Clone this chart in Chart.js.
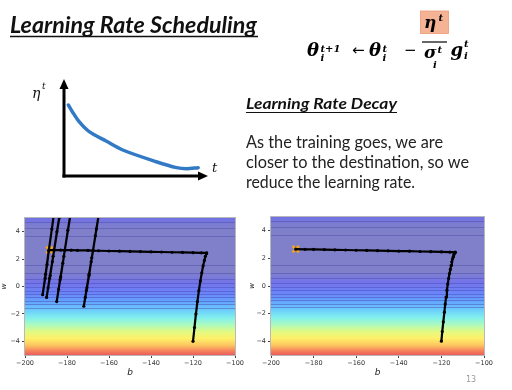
<!DOCTYPE html>
<html><head><meta charset="utf-8">
<script src="https://cdn.jsdelivr.net/npm/chart.js@4.4.1/dist/chart.umd.min.js"></script>
<style>
html,body{margin:0;padding:0;background:#fff;}
#stage{position:relative;width:512px;height:390px;overflow:hidden;background:#fff;}
canvas{position:absolute;}
#etaC{left:55px;top:72px;}
#leftC{left:0px;top:210px;}
#rightC{left:248px;top:210px;}
svg{position:absolute;left:0;top:0;}
</style></head>
<body>
<div id="stage">
<canvas id="etaC" width="160" height="112"></canvas>
<canvas id="leftC" width="250" height="180"></canvas>
<canvas id="rightC" width="264" height="180"></canvas>
<svg id="txt" width="512" height="390" xmlns="http://www.w3.org/2000/svg">
  <!-- title -->
  <text x="10" y="33" font-family="Lato" font-weight="bold" font-style="italic" font-size="23" fill="#111" textLength="247" lengthAdjust="spacingAndGlyphs">Learning Rate Scheduling</text>
  <line x1="10" y1="36.5" x2="258" y2="36.5" stroke="#111" stroke-width="1.6"/>
  <!-- formula -->
  <rect x="420.5" y="11" width="28" height="22.5" fill="#f5b396" stroke="#ee9a78" stroke-width="0.8"/>
  <g font-family="DejaVu Serif" font-weight="bold" font-style="italic" fill="#000">
    <text x="307" y="56" font-size="18">θ</text>
    <text x="320.5" y="52" font-size="10">t+1</text>
    <text x="320.5" y="61" font-size="10">i</text>
    <text x="369" y="56" font-size="18">θ</text>
    <text x="382.5" y="52" font-size="10">t</text>
    <text x="382.5" y="61" font-size="10">i</text>
    <text x="424" y="28" font-size="17">η</text>
    <text x="438.5" y="21" font-size="10">t</text>
    <text x="424" y="58" font-size="17">σ</text>
    <text x="437.5" y="53" font-size="10">t</text>
    <text x="433" y="68" font-size="10">i</text>
    <text x="450.5" y="56" font-size="18">g</text>
    <text x="464" y="47" font-size="10">t</text>
    <text x="464" y="59" font-size="10">i</text>
  </g>
  <text x="352" y="55" font-family="DejaVu Sans" font-size="15" fill="#000">←</text>
  <text x="404" y="55" font-family="DejaVu Sans" font-size="15" fill="#000">−</text>
  <line x1="422" y1="42" x2="447" y2="42" stroke="#000" stroke-width="1.2"/>
  <!-- eta chart labels -->
  <text x="32" y="98" font-family="DejaVu Serif" font-style="italic" font-size="14" fill="#111">η</text>
  <text x="42" y="89" font-family="DejaVu Serif" font-style="italic" font-size="9" fill="#111">t</text>
  <text x="212" y="172" font-family="DejaVu Serif" font-style="italic" font-size="13" fill="#111">t</text>
  <!-- right text block -->
  <text x="246" y="109" font-family="Lato" font-weight="bold" font-style="italic" font-size="16" fill="#111" textLength="151" lengthAdjust="spacingAndGlyphs">Learning Rate Decay</text>
  <line x1="246" y1="112.5" x2="397" y2="112.5" stroke="#111" stroke-width="1.2"/>
  <g font-family="Lato" font-size="17" fill="#222">
    <text x="246" y="148" textLength="197" lengthAdjust="spacingAndGlyphs">As the training goes, we are</text>
    <text x="246" y="168" textLength="223" lengthAdjust="spacingAndGlyphs">closer to the destination, so we</text>
    <text x="246" y="188" textLength="169" lengthAdjust="spacingAndGlyphs">reduce the learning rate.</text>
  </g>
  <text x="471" y="382" font-family="DejaVu Sans" font-size="8" fill="#999" text-anchor="middle">13</text>
</svg>
</div>
<script>
// ---- small learning-rate curve ----
const etaT   = [0.30, 0.58, 1.05, 1.75, 2.92, 4.08, 6.41, 7.81, 8.51, 9.32];
const etaVal = [0.732, 0.663, 0.560, 0.457, 0.361, 0.268, 0.147, 0.086, 0.075, 0.086];

// ---- contour plots ----
const bTicks = [-200, -180, -160, -140, -120, -100];
const wTicks = [-4, -2, 0, 2, 4];
const targetB = [-188.4];
const targetW = [2.67];

// Adagrad without decay (left)
const plainB = [-120, -119.3, -118.6, -117.9, -117.2, -116.5, -115.8, -115.2, -114.6, -114.1, -113.6, -113.5,
  -116, -120, -125, -130, -135, -140, -145, -150, -155, -160, -165, -167.6,
  -168.5, -169.5, -170.5, -171.3, -172, -170.8, -169.5, -168.2, -166.5, -164.5, -161.9, -166, -167.6,
  -170, -175, -178, -181.05,
  -182, -183, -184, -184.9, -183.3, -181.5, -179.6, -177.5, -175.5, -178.5, -181.05,
  -183, -186.1,
  -187, -188, -189, -189.7, -188.3, -186.6, -184.8, -182.8, -180.6, -183.7, -186.1,
  -188.6,
  -189.5, -190.4, -191.6, -190.2, -188.7, -187.2, -185.6, -183.8];
const plainW = [-4, -3.0, -2.0, -1.1, -0.3, 0.4, 1.0, 1.5, 1.9, 2.2, 2.4, 2.45,
  2.46, 2.47, 2.49, 2.50, 2.52, 2.53, 2.55, 2.56, 2.58, 2.59, 2.61, 2.62,
  1.8, 0.8, -0.1, -0.8, -1.44, -0.3, 0.9, 2.1, 3.7, 5.6, 8, 4.2, 2.62,
  2.63, 2.64, 2.65, 2.65,
  1.7, 0.7, -0.2, -1.1, 0.5, 2.2, 4.1, 6.1, 8, 5.1, 2.65,
  2.66, 2.66,
  1.8, 0.8, -0.1, -0.8, 0.6, 2.2, 4.0, 5.9, 8, 5.0, 2.66,
  2.67,
  1.6, 0.6, -0.6, 0.9, 2.6, 4.2, 6.0, 8];

// Adagrad with learning-rate decay (right)
const decayB = [-120, -119.6, -119.1, -118.6, -118.2, -117.8, -117.4, -117, -116.6, -116.2, -115.8, -115.4, -115.1, -114.8, -114.5, -114.2, -113.9, -113.6, -113.5,
  -116, -120, -125, -130, -135, -140, -145, -150, -155, -160, -165, -170, -175, -180, -184, -188.4];
const decayW = [-4, -3.3, -2.6, -1.9, -1.3, -0.8, -0.3, 0.15, 0.55, 0.9, 1.2, 1.5, 1.75, 1.95, 2.1, 2.25, 2.35, 2.42, 2.45,
  2.46, 2.47, 2.49, 2.50, 2.52, 2.53, 2.55, 2.56, 2.58, 2.59, 2.61, 2.62, 2.64, 2.65, 2.66, 2.67];

// background colour bands (w level -> colour) and contour line levels
const bandW = [5, 4.6, 4.2, 1.0, 0.3, -0.5, -1.2, -1.8, -2.3, -2.8, -3.3, -3.8, -4.3, -4.7, -5];
const bandColor = ['rgb(112,112,232)', 'rgb(122,122,212)', 'rgb(128,128,202)', 'rgb(128,128,202)', 'rgb(116,116,234)',
  'rgb(106,132,250)', 'rgb(100,170,255)', 'rgb(110,210,250)', 'rgb(130,240,236)', 'rgb(172,250,190)',
  'rgb(226,250,130)', 'rgb(255,240,105)', 'rgb(252,196,96)', 'rgb(245,130,92)', 'rgb(235,92,92)'];
const contourW = [4.7, 4.3, 3.7, 1.55, 0.95, 0.55, 0.25, -0.05, -0.3, -0.55, -0.8, -1.05, -1.3, -1.55];

const pts = (xs, ys) => xs.map((x, i) => ({x, y: ys[i]}));
const minusFmt = v => String(v).replace('-', '\u2212');

const contourBg = {
  id: 'contourBg',
  beforeDatasetsDraw(chart) {
    const {ctx, chartArea: a, scales: {y}} = chart;
    const top = y.getPixelForValue(5), bot = y.getPixelForValue(-5);
    const g = ctx.createLinearGradient(0, top, 0, bot);
    bandW.forEach((w, i) => g.addColorStop((5 - w) / 10, bandColor[i]));
    ctx.save();
    ctx.fillStyle = g;
    ctx.fillRect(a.left, a.top, a.right - a.left, a.bottom - a.top);
    ctx.strokeStyle = 'rgba(70,70,170,0.45)';
    ctx.lineWidth = 1;
    contourW.forEach(w => {
      const p = Math.round(y.getPixelForValue(w)) + 0.5;
      ctx.beginPath(); ctx.moveTo(a.left, p); ctx.lineTo(a.right, p); ctx.stroke();
    });
    ctx.restore();
  },
  afterDraw(chart) {
    const {ctx, chartArea: a} = chart;
    ctx.save();
    ctx.strokeStyle = '#b8b8b8';
    ctx.lineWidth = 1;
    ctx.strokeRect(Math.round(a.left) - 0.5, Math.round(a.top) - 0.5, Math.round(a.right - a.left) + 1, Math.round(a.bottom - a.top) + 1);
    ctx.restore();
  }
};

function contourChart(id, xs, ys, pad, yWidth) {
  return new Chart(document.getElementById(id), {
    type: 'scatter',
    data: {
      datasets: [
        {data: pts(xs, ys), showLine: true, borderColor: '#000', borderWidth: 2.2,
         pointRadius: 1.6, pointBackgroundColor: '#000', pointBorderWidth: 0, order: 0},
        {data: pts(targetB, targetW), pointStyle: 'crossRot', pointRadius: 4.5,
         borderColor: '#f5a31a', borderWidth: 2.5, order: 1}
      ]
    },
    options: {
      responsive: false, animation: false, devicePixelRatio: 1,
      layout: {padding: pad},
      plugins: {legend: {display: false}, tooltip: {enabled: false}},
      scales: {
        x: {
          type: 'linear', min: -200, max: -100,
          afterBuildTicks: s => { s.ticks = bTicks.map(v => ({value: v})); },
          afterFit: s => { s.height = 35; s.paddingLeft = 0; s.paddingRight = 0; },
          grid: {display: true, drawOnChartArea: false, drawTicks: true, tickLength: 3, color: '#444'},
          border: {display: false},
          ticks: {callback: minusFmt, font: {family: 'DejaVu Sans', size: 6.5}, color: '#333', padding: 1, maxRotation: 0},
          title: {display: true, text: 'b', font: {family: 'DejaVu Sans', size: 9, style: 'italic'}, color: '#222', padding: {top: 0, bottom: 12}}
        },
        y: {
          type: 'linear', min: -5, max: 5,
          afterBuildTicks: s => { s.ticks = wTicks.map(v => ({value: v})); },
          afterFit: s => { s.width = yWidth; s.paddingTop = 0; s.paddingBottom = 0; },
          grid: {display: true, drawOnChartArea: false, drawTicks: true, tickLength: 3, color: '#444'},
          border: {display: false},
          ticks: {callback: minusFmt, font: {family: 'DejaVu Sans', size: 6.5}, color: '#333', padding: 2},
          title: {display: true, text: 'w', font: {family: 'DejaVu Sans', size: 7, style: 'italic', lineHeight: 1}, color: '#222', padding: {top: 1, bottom: 0}}
        }
      }
    },
    plugins: [contourBg]
  });
}

contourChart('leftC', plainB, plainW, {left: 0, right: 15, top: 8, bottom: 0}, 25);
contourChart('rightC', decayB, decayW, {left: 0, right: 28, top: 7, bottom: 0}, 23);

// ---- eta chart ----
const arrowAxes = {
  id: 'arrowAxes',
  beforeDatasetsDraw(chart) {
    const {ctx, scales: {x, y}} = chart;
    const x0 = x.getPixelForValue(0), x1 = x.getPixelForValue(10);
    const y0 = y.getPixelForValue(0), y1 = y.getPixelForValue(1);
    ctx.save();
    ctx.strokeStyle = '#000'; ctx.fillStyle = '#000'; ctx.lineWidth = 3;
    ctx.beginPath(); ctx.moveTo(x0, y0 + 1.5); ctx.lineTo(x0, y1 + 8); ctx.stroke();
    ctx.beginPath(); ctx.moveTo(x0, y1); ctx.lineTo(x0 - 4.5, y1 + 10); ctx.lineTo(x0 + 4.5, y1 + 10); ctx.closePath(); ctx.fill();
    ctx.beginPath(); ctx.moveTo(x0 - 1.5, y0); ctx.lineTo(x1 - 8, y0); ctx.stroke();
    ctx.beginPath(); ctx.moveTo(x1, y0); ctx.lineTo(x1 - 10, y0 - 4.5); ctx.lineTo(x1 - 10, y0 + 4.5); ctx.closePath(); ctx.fill();
    ctx.restore();
  }
};
new Chart(document.getElementById('etaC'), {
  type: 'scatter',
  data: {datasets: [{data: pts(etaT, etaVal), showLine: true, borderColor: '#3279c6', borderWidth: 3.5,
    pointRadius: 0, tension: 0.3, borderCapStyle: 'round'}]},
  options: {
    responsive: false, animation: false, devicePixelRatio: 1,
    layout: {padding: {left: 9, right: 7, top: 7, bottom: 8}},
    plugins: {legend: {display: false}, tooltip: {enabled: false}},
    scales: {
      x: {type: 'linear', min: 0, max: 10, display: false},
      y: {type: 'linear', min: 0, max: 1, display: false}
    }
  },
  plugins: [arrowAxes]
});
</script>
</body></html>
